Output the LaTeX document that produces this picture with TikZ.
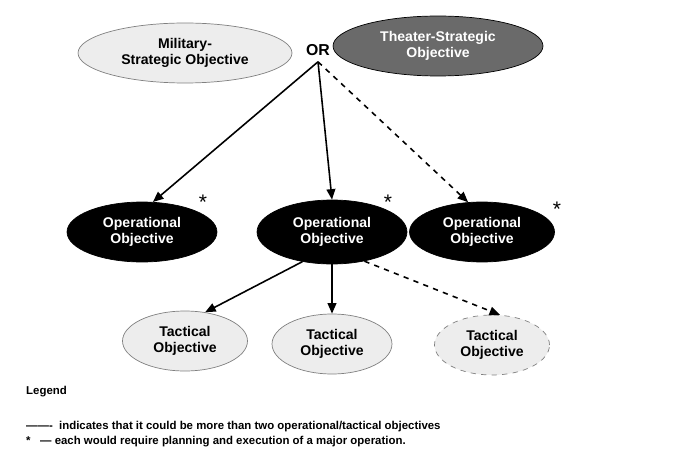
\documentclass[tikz,border=0pt]{standalone}
\usepackage{fontspec}
\setmainfont{Liberation Sans}
\usetikzlibrary{arrows.meta, shapes.geometric}
\definecolor{lightfill}{HTML}{EDEDED}
\definecolor{darkfill}{HTML}{6A6A6A}
\begin{document}
\begin{tikzpicture}[x=0.02cm, y=-0.02cm,
  every node/.style={font=\fontsize{8}{9.5}\selectfont\bfseries, align=center},
  light/.style={ellipse, draw=gray, fill=lightfill, inner sep=0pt},
  dark/.style={ellipse, draw=black, fill=darkfill, text=white, inner sep=0pt},
  oper/.style={ellipse, draw=black, fill=black, text=white, inner sep=0pt},
  link/.style={-{Triangle[length=6pt,width=5pt]}, line width=0.9pt},
  star/.style={font=\fontsize{12}{12}\selectfont}]
\useasboundingbox (0,0) rectangle (682,459);
% top level
\node[light, minimum width=214\pgflinewidth, minimum width=4.28cm, minimum height=1.2cm] (mil) at (185,53) {Military-\\Strategic Objective};
\node (or) at (318,50) {\fontsize{9}{9}\selectfont OR};
\node[dark, minimum width=4.2cm, minimum height=1.2cm] (thea) at (438,46) {Theater-Strategic\\Objective};
% operational
\node[oper, minimum width=3cm, minimum height=1.2cm] (op1) at (142,232) {Operational\\Objective};
\node[oper, minimum width=3cm, minimum height=1.28cm] (op2) at (332,232) {Operational\\Objective};
\node[oper, minimum width=2.9cm, minimum height=1.2cm] (op3) at (482,232) {Operational\\Objective};
\node[star] (s1) at (203,202) {*};
\node[star] (s2) at (388,202) {*};
\node[star] (s3) at (557,209) {*};
% tactical
\node[light, minimum width=2.5cm, minimum height=1.2cm] (ta1) at (185,341) {Tactical\\Objective};
\node[light, minimum width=2.4cm, minimum height=1.2cm] (ta2) at (332,344) {Tactical\\Objective};
\node[light, dashed, minimum width=2.3cm, minimum height=1.2cm] (ta3) at (492,345) {Tactical\\Objective};
% connectors
\draw[link] (or.south) -- (op1.70);
\draw[link] (or.south) -- (op2.north);
\draw[link, dashed] (or.south) -- (op3.115);
\draw[link] (op2.225) -- (ta1.55);
\draw[link] (op2.south) -- (ta2.north);
\draw[link, dashed] (op2.318) -- (ta3.75);
% legend
\node[anchor=west, font=\fontsize{6.5}{7}\selectfont\bfseries] (leg) at (20,392) {Legend};
\node[anchor=west, font=\fontsize{6.5}{7}\selectfont\bfseries] (leg1) at (20,427) {-------\ \ indicates that it could be more than two operational/tactical objectives};
\node[anchor=west, font=\fontsize{6.5}{7}\selectfont\bfseries] (leg2) at (20,442) {*\ \ \ --- each would require planning and execution of a major operation.};
\end{tikzpicture}
\end{document}
